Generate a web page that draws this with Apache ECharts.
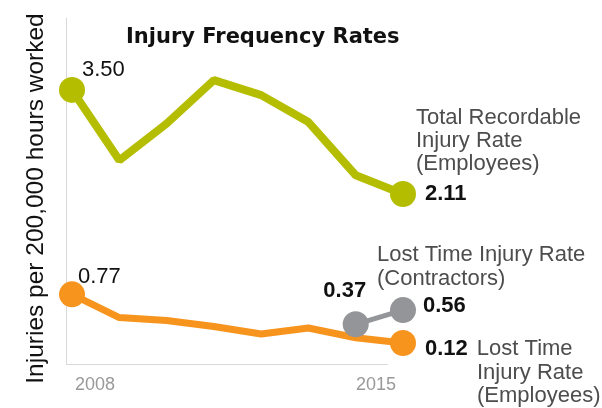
<!DOCTYPE html>
<html>
<head>
<meta charset="utf-8">
<script src="https://cdn.jsdelivr.net/npm/echarts@6/dist/echarts.min.js"></script>
<style>
  html, body { margin: 0; padding: 0; background: #fff; }
  #chart { width: 602px; height: 408px; }
</style>
</head>
<body>
<div id="chart"></div>
<script>
// data
const years = [2008, 2009, 2010, 2011, 2012, 2013, 2014, 2015];
const trirEmployees = [3.50, 2.56, 3.05, 3.63, 3.43, 3.07, 2.36, 2.11];
const ltirEmployees = [0.77, 0.46, 0.42, 0.34, 0.24, 0.32, 0.19, 0.12];
const contractorYears = [2014, 2015];
const ltirContractors = [0.37, 0.56];
const yearTicks = [2008, 2015];

const FONT = 'Liberation Sans';
const GREEN = '#b5bd00';
const ORANGE = '#f7941d';
const GREY = '#939598';
const AXIS = '#d9d9d9';

const yMin = -0.16, yMax = 4.46;
const xMin = 2007.873, baseEnd = 2014.68;

const fmt = p => p.value[1].toFixed(2);

// only first and last points get a dot and a label
function buildData(xs, ys, firstLabel, lastLabel) {
  return xs.map((x, i) => {
    const item = { value: [x, ys[i]] };
    if (i === 0) item.label = firstLabel;
    else if (i === xs.length - 1) item.label = lastLabel;
    else item.symbol = 'none';
    return item;
  });
}

const plain = { fontFamily: FONT, fontSize: 22, color: '#111' };
const nameStyle = { fontFamily: FONT, fontSize: 22, color: '#4d4d4d' };

const chart = echarts.init(document.getElementById('chart'), null, { renderer: 'canvas' });

const option = {
  animation: false,
  title: {
    text: 'Injury Frequency Rates',
    left: 126,
    top: 27,
    padding: 0,
    textStyle: { fontFamily: 'DejaVu Sans', fontWeight: 'bold', fontSize: 21, color: '#111' }
  },
  grid: { left: 66, right: 199, top: 18, bottom: 44 },
  xAxis: {
    type: 'value',
    min: xMin,
    max: 2015,
    axisLine: { show: false },
    axisTick: { show: false },
    splitLine: { show: false },
    axisLabel: {
      customValues: yearTicks,
      margin: 12,
      formatter: v => v === 2008 ? '{a|' + v + '}' : '{b|' + v + '}',
      rich: {
        a: { fontFamily: FONT, fontSize: 18, color: '#999', padding: [0, 0, 0, 46] },
        b: { fontFamily: FONT, fontSize: 18, color: '#999', padding: [0, 54, 0, 0] }
      }
    }
  },
  yAxis: {
    type: 'value',
    min: yMin,
    max: yMax,
    name: 'Injuries per 200,000 hours worked',
    nameLocation: 'middle',
    nameGap: 17,
    nameTextStyle: { fontFamily: FONT, fontSize: 24.5, color: '#111', padding: [0, 15, 0, 0] },
    axisLine: { show: true, lineStyle: { color: AXIS, width: 1 } },
    axisTick: { show: false },
    axisLabel: { show: false },
    splitLine: { show: false }
  },
  series: [
    {
      name: 'Total Recordable Injury Rate (Employees)',
      type: 'line',
      clip: false,
      symbol: 'circle',
      symbolSize: 26,
      showAllSymbol: true,
      itemStyle: { color: GREEN },
      lineStyle: { color: GREEN, width: 8 },
      data: buildData(years, trirEmployees,
        { show: true, position: 'right', distance: 5, offset: [-8, -20], formatter: fmt, ...plain },
        {
          show: true, position: 'right', distance: 5, offset: [-5, -35],
          formatter: p => '{n|Total Recordable}\n{n|Injury Rate}\n{n|(Employees)}\n{v|' + fmt(p) + '}',
          rich: {
            n: { ...nameStyle, lineHeight: 23 },
            v: { ...plain, fontWeight: 'bold', lineHeight: 37, padding: [0, 0, 0, 9] }
          }
        }),
      markLine: {
        silent: true,
        symbol: 'none',
        label: { show: false },
        lineStyle: { color: AXIS, width: 1, type: 'solid' },
        data: [[{ coord: [xMin, yMin] }, { coord: [baseEnd, yMin] }]]
      }
    },
    {
      name: 'Lost Time Injury Rate (Employees)',
      type: 'line',
      clip: false,
      symbol: 'circle',
      symbolSize: 26,
      showAllSymbol: true,
      itemStyle: { color: ORANGE },
      lineStyle: { color: ORANGE, width: 7 },
      data: buildData(years, ltirEmployees,
        { show: true, position: 'right', distance: 5, offset: [-12, -17], formatter: fmt, ...plain },
        {
          show: true, position: 'right', distance: 5, offset: [4, 29.5],
          formatter: p => '{v|' + fmt(p) + '}{n1|Lost Time}\n{n2|Injury Rate}\n{n2|(Employees)}',
          rich: {
            v: { ...plain, fontWeight: 'bold', lineHeight: 23.5 },
            n1: { ...nameStyle, lineHeight: 23.5, padding: [0, 0, 0, 9] },
            n2: { ...nameStyle, lineHeight: 23.5, padding: [0, 0, 0, 52] }
          }
        })
    },
    {
      name: 'Lost Time Injury Rate (Contractors)',
      type: 'line',
      clip: false,
      symbol: 'circle',
      symbolSize: 26,
      itemStyle: { color: GREY },
      lineStyle: { color: GREY, width: 5 },
      data: buildData(contractorYears, ltirContractors,
        { show: true, position: 'top', distance: 5, offset: [-11, -4], formatter: fmt, ...plain, fontWeight: 'bold' },
        {
          show: true, position: 'right', distance: 5, offset: [-44, -28],
          formatter: p => '{n|Lost Time Injury Rate}\n{n|(Contractors)}\n{v|' + fmt(p) + '}',
          rich: {
            n: { ...nameStyle, lineHeight: 24 },
            v: { ...plain, fontWeight: 'bold', lineHeight: 30, padding: [0, 0, 0, 46] }
          }
        })
    }
  ]
};

chart.setOption(option);
</script>
</body>
</html>
